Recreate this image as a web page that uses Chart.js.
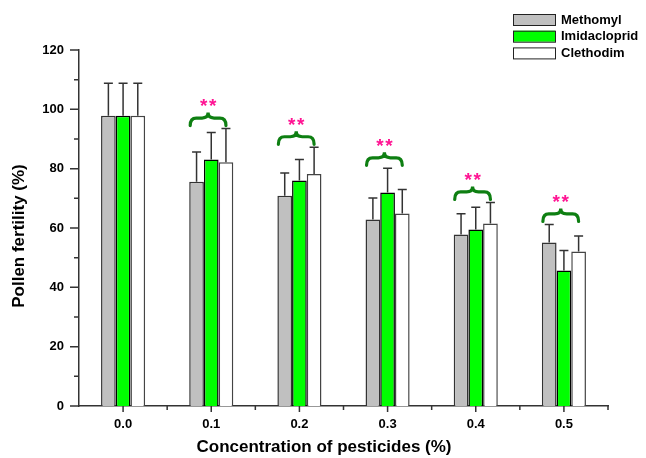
<!DOCTYPE html>
<html>
<head>
<meta charset="utf-8">
<script src="https://cdn.jsdelivr.net/npm/chart.js@4"></script>
<style>
  html, body { margin: 0; padding: 0; background: #fff; }
  #wrap { width: 646px; height: 458px; position: relative; }
</style>
</head>
<body>
<div id="wrap"><canvas id="pollenChart"></canvas></div>
<script>
// Data
const categories = ['0.0', '0.1', '0.2', '0.3', '0.4', '0.5'];
const methomyl = [97.8, 75.6, 70.9, 62.9, 57.8, 55.1];
const methomylErr = [11.0, 10.0, 7.6, 7.2, 7.0, 6.1];
const imidacloprid = [97.8, 83.1, 76.0, 72.0, 59.5, 45.7];
const imidaclopridErr = [11.0, 9.1, 7.1, 8.1, 7.5, 6.7];
const clethodim = [97.8, 82.2, 78.2, 64.9, 61.5, 52.1];
const clethodimErr = [11.0, 11.3, 9.0, 8.1, 7.1, 5.2];
const significance = ['', '**', '**', '**', '**', '**'];
const yTicks = [0, 20, 40, 60, 80, 100, 120];
const xTitle = 'Concentration of pesticides (%)';
const yTitle = 'Pollen fertility (%)';

const FONT = "'Liberation Sans', Arial, sans-serif";
const errors = [methomylErr, imidaclopridErr, clethodimErr];

// error bars (upper only), axis tick marks, braces, titles and legend
const extrasPlugin = {
    id: 'extras',
    afterDatasetsDraw(chart) {
        const ctx = chart.ctx;
        const y = chart.scales.y;
        ctx.save();
        ctx.lineWidth = 1.5;
        ctx.strokeStyle = '#333';
        chart.data.datasets.forEach((ds, di) => {
            const meta = chart.getDatasetMeta(di);
            meta.data.forEach((bar, i) => {
                const top = y.getPixelForValue(ds.data[i] + errors[di][i]);
                ctx.beginPath();
                ctx.moveTo(bar.x, bar.y);
                ctx.lineTo(bar.x, top);
                ctx.moveTo(bar.x - 4.5, top);
                ctx.lineTo(bar.x + 4.5, top);
                ctx.stroke();
            });
        });

        // braces + stars
        const m0 = chart.getDatasetMeta(0), m2 = chart.getDatasetMeta(2);
        significance.forEach((s, i) => {
            if (!s) return;
            const x1 = m0.data[i].x - m0.data[i].width / 2 + 1;
            const x2 = m2.data[i].x;
            let minTop = Infinity;
            chart.data.datasets.forEach((ds, di) => {
                minTop = Math.min(minTop, y.getPixelForValue(ds.data[i] + errors[di][i]));
            });
            const h = 13;
            const top = minTop - 3 - h;
            const mid = (x1 + x2) / 2, yMid = top + h * 0.42, r = 6;
            ctx.strokeStyle = '#0e7f12';
            ctx.lineWidth = 3.2;
            ctx.lineCap = 'round';
            ctx.beginPath();
            ctx.moveTo(x1, top + h);
            ctx.quadraticCurveTo(x1, yMid, x1 + r, yMid);
            ctx.lineTo(mid - r, yMid);
            ctx.quadraticCurveTo(mid, yMid, mid, top);
            ctx.quadraticCurveTo(mid, yMid, mid + r, yMid);
            ctx.lineTo(x2 - r, yMid);
            ctx.quadraticCurveTo(x2, yMid, x2, top + h);
            ctx.stroke();
            ctx.fillStyle = '#ff1493';
            ctx.font = 'bold 19px ' + FONT;
            ctx.textAlign = 'center';
            ctx.textBaseline = 'middle';
            ctx.fillText('*', mid - 4.5, top - 6);
            ctx.fillText('*', mid + 4.5, top - 6);
        });
        ctx.restore();
    },
    afterDraw(chart) {
        const ctx = chart.ctx;
        const x = chart.scales.x, y = chart.scales.y;
        const area = chart.chartArea;
        ctx.save();
        ctx.strokeStyle = '#333';
        ctx.lineWidth = 1.5;
        ctx.beginPath();
        for (let v = 0; v <= 120; v += 10) {
            const py = y.getPixelForValue(v);
            const len = v % 20 === 0 ? 9 : 5;
            ctx.moveTo(area.left - len, py);
            ctx.lineTo(area.left, py);
        }
        const step = x.getPixelForValue(1) - x.getPixelForValue(0);
        categories.forEach((c, i) => {
            const px = x.getPixelForValue(i);
            ctx.moveTo(px, area.bottom);
            ctx.lineTo(px, area.bottom + 6);
            ctx.moveTo(px + step / 2, area.bottom);
            ctx.lineTo(px + step / 2, area.bottom + 4);
        });
        ctx.stroke();

        // axis titles
        ctx.fillStyle = '#000';
        ctx.font = 'bold 17px ' + FONT;
        ctx.textAlign = 'center';
        ctx.textBaseline = 'middle';
        ctx.fillText(xTitle, 324, 447);
        ctx.save();
        ctx.translate(19, 236);
        ctx.rotate(-Math.PI / 2);
        ctx.fillText(yTitle, 0, 0);
        ctx.restore();

        // legend
        chart.data.datasets.forEach((ds, i) => {
            const by = 14 + i * 16.7;
            ctx.fillStyle = ds.backgroundColor;
            ctx.fillRect(513, by, 42, 11);
            ctx.strokeStyle = '#222';
            ctx.lineWidth = 1;
            ctx.strokeRect(513.5, by + 0.5, 42, 11);
            ctx.fillStyle = '#000';
            ctx.font = 'bold 13px ' + FONT;
            ctx.textAlign = 'left';
            ctx.textBaseline = 'middle';
            ctx.fillText(ds.label, 561, by + 6);
        });
        ctx.restore();
    }
};

new Chart(document.getElementById('pollenChart'), {
    type: 'bar',
    data: {
        labels: categories,
        datasets: [{
            label: 'Methomyl',
            data: methomyl,
            backgroundColor: '#c0c0c0',
            borderColor: '#333',
            borderWidth: 1.5
        }, {
            label: 'Imidacloprid',
            data: imidacloprid,
            backgroundColor: '#00ff00',
            borderColor: '#000',
            borderWidth: 1.5
        }, {
            label: 'Clethodim',
            data: clethodim,
            backgroundColor: '#ffffff',
            borderColor: '#444',
            borderWidth: 1.5
        }]
    },
    options: {
        responsive: true,
        maintainAspectRatio: false,
        animation: false,
        layout: { padding: { top: 50, right: 38, left: 0, bottom: 0 } },
        datasets: { bar: { categoryPercentage: 0.5, barPercentage: 1 } },
        plugins: {
            legend: { display: false },
            tooltip: { enabled: false }
        },
        scales: {
            x: {
                grid: { display: false, tickLength: 6 },
                border: { display: true, color: '#333', width: 1.5 },
                ticks: { color: '#000', font: { family: FONT, size: 13, weight: 'bold' }, padding: 5 },
                afterFit: (scale) => { scale.height = 52; }
            },
            y: {
                min: 0,
                max: 120,
                grid: { display: false, tickLength: 9 },
                border: { display: true, color: '#333', width: 1.5 },
                afterBuildTicks: (scale) => { scale.ticks = yTicks.map(v => ({ value: v })); },
                ticks: { color: '#000', font: { family: FONT, size: 13, weight: 'bold' }, padding: 6 },
                afterFit: (scale) => { scale.width = 79; }
            }
        }
    },
    plugins: [extrasPlugin]
});
</script>
</body>
</html>
